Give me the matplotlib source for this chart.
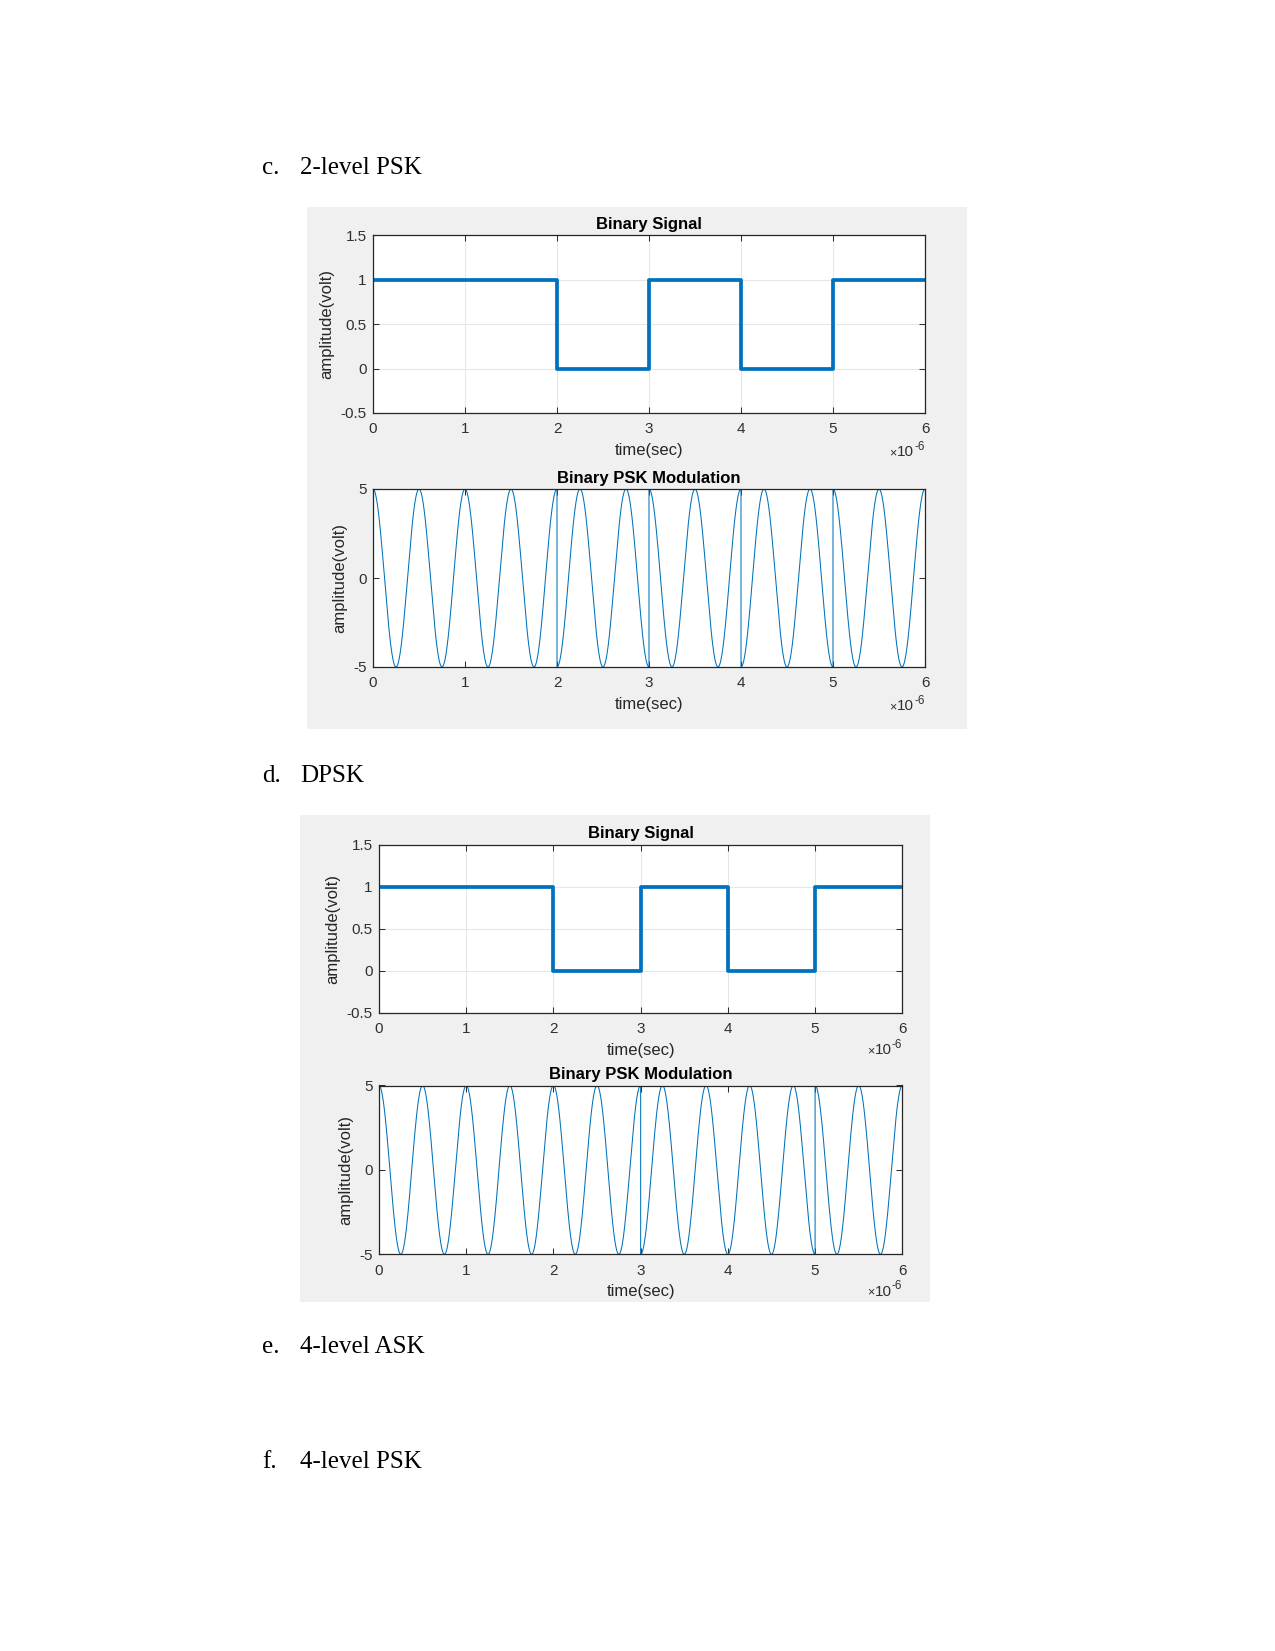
import matplotlib
matplotlib.use("Agg")
import matplotlib.pyplot as plt
import matplotlib.patches as patches
import matplotlib.transforms as mtransforms
from matplotlib.ticker import FuncFormatter
import numpy as np

# bit stream and phase of the carrier in each bit slot
bits = [1, 1, 0, 1, 0, 1]
pskPhase = [1, 1, -1, 1, -1, 1]
dpskPhase = [1, 1, 1, -1, -1, 1]

bitTime = 1e-6      # seconds per bit
carrierFreq = 2e6   # Hz
carrierAmp = 5      # volt

headings = [("c.", "2-level PSK"), ("d.", "DPSK"), ("e.", "4-level ASK"), ("f.", "4-level PSK")]
headingY = [174, 782, 1353, 1468]

W, H = 1275, 1651
fig = plt.figure(figsize=(W / 150, H / 150), dpi=150)
fig.patch.set_facecolor("white")

def px_rect(left, top, right, bottom):
    return [left / W, 1 - bottom / H, (right - left) / W, (bottom - top) / H]

# grey figure backgrounds (MATLAB window)
for l, t, r, b in [(307, 207, 967, 729), (300, 815, 930.5, 1301.5)]:
    x0, y0, w, h = px_rect(l, t, r, b)
    fig.patches.append(patches.Rectangle((x0, y0), w, h, transform=fig.transFigure,
                                         facecolor="#f0f0f0", edgecolor="none", zorder=-5))

for (num, txt), y in zip(headings, headingY):
    fig.text(262 / W, 1 - y / H, num, fontsize=12, family="Liberation Serif", va="baseline")
    fig.text(300 / W, 1 - y / H, txt, fontsize=12, family="Liberation Serif", va="baseline")

tickSize = 7.3
labelFont = dict(family="Liberation Sans", size=8.0, color="#262626")
titleFont = dict(family="Liberation Sans", size=8.0, weight="bold", color="black")
grey = "#303030"
blue = "#0072BD"

def style_axes(ax, title, yticks, ylim, grid):
    ax.set_xlim(0, len(bits) * bitTime)
    ax.set_ylim(*ylim)
    ax.set_xticks(np.arange(len(bits) + 1) * bitTime)
    ax.set_yticks(yticks)
    ax.xaxis.set_major_formatter(FuncFormatter(lambda v, p: f"{v * 1e6:g}"))
    ax.yaxis.set_major_formatter(FuncFormatter(lambda v, p: f"{v:g}"))
    ax.tick_params(direction="in", top=True, right=True, length=3, width=0.5,
                   colors=grey, labelsize=tickSize)
    ax.tick_params(axis="x", pad=4.5)
    ax.tick_params(axis="y", pad=3)
    for lab in ax.get_xticklabels() + ax.get_yticklabels():
        lab.set_family("Liberation Sans")
    for s in ax.spines.values():
        s.set_linewidth(0.6)
        s.set_color("#262626")
    if grid:
        ax.grid(True, color="#e6e6e6", linewidth=0.5)
        ax.set_axisbelow(True)
    ax.set_title(title, pad=3, **titleFont)
    ax.set_xlabel("time(sec)", labelpad=3, **labelFont)
    ax.set_ylabel("amplitude(volt)", labelpad=3, **labelFont)
    # MATLAB style exponent label at lower right
    ax.text(1.0, -0.19, "-6", transform=ax.transAxes, ha="right", va="center",
            family="Liberation Sans", size=5.6, color=grey)
    shifted = mtransforms.offset_copy(ax.transAxes, fig=fig, x=-5.2, y=-2.6, units="points")
    ax.text(1.0, -0.19, "10", transform=shifted, ha="right", va="center",
            family="Liberation Sans", size=tickSize, color=grey)
    shifted2 = mtransforms.offset_copy(ax.transAxes, fig=fig, x=-13.6, y=-3.0, units="points")
    ax.text(1.0, -0.19, "\u00d7", transform=shifted2, ha="right", va="center",
            family="Liberation Sans", size=6.0, color=grey)

def psk_wave(phases):
    tt, yy = [], []
    for i, ph in enumerate(phases):
        t = np.linspace(i * bitTime, (i + 1) * bitTime, 1000)
        tt.append(t)
        yy.append(ph * carrierAmp * np.cos(2 * np.pi * carrierFreq * t))
    return np.concatenate(tt), np.concatenate(yy)

stepX = np.arange(len(bits) + 1) * bitTime
stepY = bits + [bits[-1]]

rects = [px_rect(373, 235.5, 925, 413), px_rect(373, 489, 925, 667),
         px_rect(379, 844.5, 902.3, 1013), px_rect(379, 1085.5, 902.3, 1254.3)]
phaseSets = [pskPhase, dpskPhase]

for k in range(2):
    ax1 = fig.add_axes(rects[2 * k])
    ax1.step(stepX, stepY, where="post", color=blue, linewidth=1.8)
    style_axes(ax1, "Binary Signal", [-0.5, 0, 0.5, 1, 1.5], (-0.5, 1.5), True)

    ax2 = fig.add_axes(rects[2 * k + 1])
    t, y = psk_wave(phaseSets[k])
    ax2.plot(t, y, color=blue, linewidth=0.5)
    style_axes(ax2, "Binary PSK Modulation", [-5, 0, 5], (-5, 5), False)

fig.savefig("out.png", dpi=150)
